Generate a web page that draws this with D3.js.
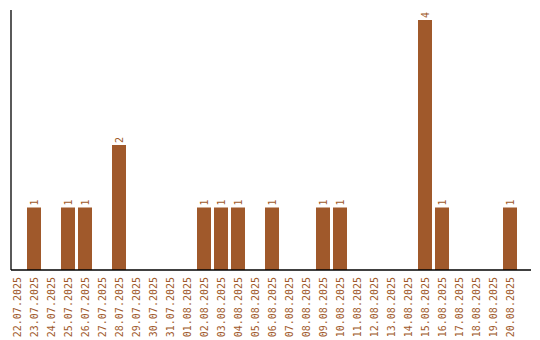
<!DOCTYPE html>
<html><head><meta charset="utf-8">
<script src="https://cdn.jsdelivr.net/npm/d3@7"></script>
<style>body{margin:0;background:#fff}svg{display:block}text{font-family:"DejaVu Sans Mono","Liberation Mono",monospace;}</style>
</head><body>
<svg id="c" width="540" height="340"></svg>
<script>
const categories = ["22.07.2025","23.07.2025","24.07.2025","25.07.2025","26.07.2025","27.07.2025","28.07.2025","29.07.2025","30.07.2025","31.07.2025","01.08.2025","02.08.2025","03.08.2025","04.08.2025","05.08.2025","06.08.2025","07.08.2025","08.08.2025","09.08.2025","10.08.2025","11.08.2025","12.08.2025","13.08.2025","14.08.2025","15.08.2025","16.08.2025","17.08.2025","18.08.2025","19.08.2025","20.08.2025"];
const values = [0,1,0,1,1,0,2,0,0,0,0,1,1,1,0,1,0,0,1,1,0,0,0,0,4,1,0,0,0,1];

const svg = d3.select("#c");
const color = "#a0592b";
const x = d3.scaleBand().domain(categories).range([8.5, 518.5]).paddingInner(3/17).paddingOuter(3/34);
const y = d3.scaleLinear().domain([0, d3.max(values)*1.04]).range([270, 10]);
const data = categories.map((c,i)=>({c, v: values[i]}));

svg.selectAll("rect.bar").data(data.filter(d=>d.v>0)).join("rect")
  .attr("x", d=>x(d.c)).attr("width", x.bandwidth())
  .attr("y", d=>y(d.v)).attr("height", d=>y(0)-y(d.v)).attr("fill", "#a0592b");

svg.selectAll("text.val").data(data.filter(d=>d.v>0)).join("text")
  .attr("transform", d=>`translate(${x(d.c)+x.bandwidth()/2},${y(d.v)-2}) rotate(-90)`)
  .attr("dy","0.35em").attr("text-anchor","start")
  .attr("font-size","10px").attr("fill", color).text(d=>d.v);

// axes
svg.append("line").attr("x1",11).attr("x2",11).attr("y1",10).attr("y2",270).attr("stroke","#000").attr("stroke-width",1.3);
svg.append("line").attr("x1",11).attr("x2",531).attr("y1",270).attr("y2",270).attr("stroke","#000").attr("stroke-width",1.3);

svg.selectAll("text.tick").data(categories).join("text")
  .attr("transform", d=>`translate(${x(d)+x.bandwidth()/2},277) rotate(-90)`)
  .attr("dy","0.35em").attr("text-anchor","end")
  .attr("font-size","10px").attr("fill", color).text(d=>d);
</script>
</body></html>
